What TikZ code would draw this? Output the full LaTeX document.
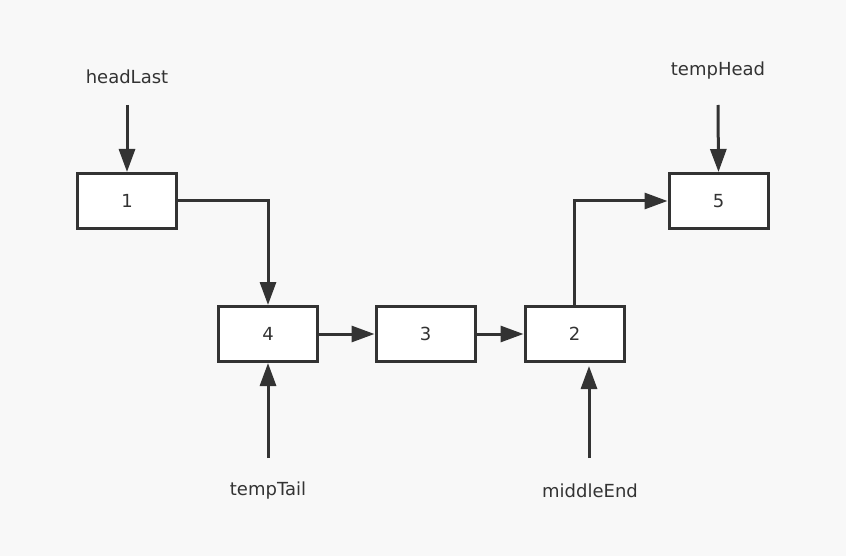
\documentclass[tikz,border=0pt]{standalone}
\usepackage{fontspec}
\setmainfont{DejaVu Sans}
\usetikzlibrary{arrows.meta}
\definecolor{bg}{HTML}{F8F8F8}
\definecolor{ink}{HTML}{333333}
\begin{document}
\begin{tikzpicture}[x=1pt,y=-1pt,
  box/.style={draw=ink, fill=white, line width=3pt, minimum width=99pt, minimum height=55pt, inner sep=0pt, font=\fontsize{18}{21}\selectfont, text=ink},
  lbl/.style={font=\fontsize{18}{21}\selectfont, text=ink, inner sep=0pt},
  link/.style={draw=ink, line width=3pt, -{Triangle[length=23pt,width=16pt]}}
]
\fill[bg] (0,0) rectangle (846,556);
\useasboundingbox (0,0) rectangle (846,556);
\node[box] (b1) at (127,201) {1};
\node[box] (b4) at (268,334) {4};
\node[box] (b3) at (425.5,334) {3};
\node[box] (b2) at (574.5,334) {2};
\node[box] (b5) at (718.5,201) {5};
\node[lbl] (hl) at (127,77) {headLast};
\node[lbl] (th) at (718,71) {tempHead};
\node[lbl] (tt) at (268,491) {tempTail};
\node[lbl] (me) at (590,491) {middleEnd};
\coordinate (hlS) at (127,105);
\coordinate (thS) at (718,105);
\coordinate (ttS) at (268,458);
\coordinate (meS) at (589,458);
\coordinate (meE) at (589,366);
\draw[link] (hlS) -- (b1.north);
\draw[link] (thS) -- (b5.north);
\draw[link] (ttS) -- (b4.south);
\draw[link] (meS) -- (meE);
\draw[link] (b1.east) -| (b4.north);
\draw[link] (b4.east) -- (b3.west);
\draw[link] (b3.east) -- (b2.west);
\draw[link] (b2.north) |- (b5.west);
\end{tikzpicture}
\end{document}
